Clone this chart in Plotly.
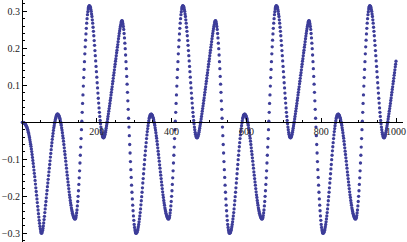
import plotly.graph_objects as go

# values, n = 1..1000
block_1 = [
    0.000, 0.000, 0.000, -0.001, -0.001, -0.002, -0.003, -0.004, -0.005, -0.007,
    -0.009, -0.011, -0.013, -0.016, -0.019, -0.023, -0.027, -0.031, -0.036, -0.041,
    -0.047, -0.053, -0.059, -0.065, -0.072, -0.079, -0.087, -0.095, -0.103, -0.111,
    -0.120, -0.129, -0.138, -0.147, -0.157, -0.167, -0.177, -0.187, -0.197, -0.207,
    -0.217, -0.227, -0.237, -0.247, -0.256, -0.265, -0.273, -0.281, -0.288, -0.294,
    -0.298, -0.300,
    -0.299, -0.296, -0.292, -0.287, -0.280, -0.272, -0.263, -0.254,
    -0.244, -0.234, -0.224, -0.214, -0.204, -0.194, -0.184, -0.174, -0.164, -0.154,
    -0.144, -0.134, -0.124, -0.114, -0.104, -0.094, -0.084, -0.074, -0.064, -0.055,
    -0.046, -0.038, -0.030, -0.022, -0.015, -0.009, -0.003, 0.002, 0.007, 0.011,
    0.015, 0.018, 0.020, 0.022, 0.022, 0.022, 0.021,
    0.019, 0.017, 0.014, 0.011, 0.007, 0.002, -0.003, -0.008,
    -0.015, -0.021, -0.028, -0.036, -0.043, -0.051, -0.060, -0.069, -0.078, -0.087,
    -0.096, -0.105, -0.115, -0.124, -0.134, -0.143, -0.152, -0.161, -0.170, -0.179,
    -0.188, -0.196, -0.203, -0.211, -0.218, -0.224, -0.231, -0.236, -0.241, -0.246,
    -0.250, -0.253, -0.256, -0.258, -0.260, -0.261, -0.261,
    -0.260, -0.257, -0.252, -0.245, -0.237, -0.226, -0.214, -0.200, -0.185, -0.168,
    -0.150, -0.131, -0.110, -0.089, -0.067, -0.044, -0.020, 0.003, 0.027, 0.051,
    0.074, 0.098, 0.121, 0.143, 0.164, 0.185, 0.204, 0.222, 0.239, 0.254,
    0.268, 0.280, 0.291, 0.299, 0.306, 0.311, 0.314, 0.315,
    0.314, 0.313, 0.310, 0.305, 0.300, 0.293, 0.286, 0.277, 0.268, 0.257,
    0.246, 0.234, 0.221, 0.208, 0.194, 0.180, 0.166, 0.151, 0.137, 0.122,
    0.107, 0.093, 0.079, 0.065, 0.052, 0.039, 0.027, 0.016, 0.005, -0.004,
    -0.013, -0.020, -0.027, -0.032, -0.037, -0.040, -0.041, -0.042,
    -0.041, -0.039, -0.036, -0.032, -0.027, -0.022, -0.016, -0.010, -0.004, 0.002,
    0.009, 0.016, 0.023, 0.030, 0.037, 0.044, 0.051, 0.059, 0.066, 0.074,
    0.081, 0.089, 0.096, 0.104, 0.111, 0.119, 0.127, 0.134, 0.142, 0.150,
    0.157, 0.165,
]

block_2 = [
    0.172, 0.180, 0.188, 0.195, 0.203, 0.210, 0.218, 0.226, 0.233, 0.240,
    0.247, 0.253, 0.259, 0.264, 0.269, 0.273, 0.275,
    0.274, 0.271, 0.266, 0.259, 0.251, 0.240, 0.228, 0.214, 0.199, 0.182,
    0.164, 0.145, 0.124, 0.103, 0.081, 0.058, 0.035, 0.011, -0.013, -0.036,
    -0.060, -0.083, -0.106, -0.128, -0.149, -0.170, -0.189, -0.207, -0.224, -0.239,
    -0.253, -0.265, -0.276, -0.284, -0.291, -0.296, -0.299, -0.300,
    -0.299, -0.298, -0.296, -0.292, -0.288, -0.282, -0.276, -0.269, -0.261, -0.253,
    -0.244, -0.234, -0.223, -0.212, -0.201, -0.189, -0.177, -0.164, -0.152, -0.139,
    -0.126, -0.114, -0.101, -0.089, -0.077, -0.066, -0.055, -0.044, -0.034, -0.025,
    -0.017, -0.009, -0.002, 0.004, 0.010, 0.014, 0.018, 0.020, 0.021, 0.022,
    0.022, 0.021, 0.019, 0.017, 0.014, 0.011, 0.007, 0.002, -0.003, -0.008,
    -0.015, -0.021, -0.028, -0.036, -0.043, -0.051, -0.060, -0.069, -0.078, -0.087,
    -0.096, -0.105, -0.115, -0.124, -0.134, -0.143, -0.152, -0.161, -0.170, -0.179,
    -0.188, -0.196, -0.203, -0.211, -0.218, -0.224, -0.231, -0.236, -0.241, -0.246,
    -0.250, -0.253, -0.256, -0.258, -0.260, -0.261, -0.261,
    -0.260, -0.257, -0.252, -0.245, -0.237, -0.226, -0.214, -0.200, -0.185, -0.168,
    -0.150, -0.131, -0.110, -0.089, -0.067, -0.044, -0.020, 0.003, 0.027, 0.051,
    0.074, 0.098, 0.121, 0.143, 0.164, 0.185, 0.204, 0.222, 0.239, 0.254,
    0.268, 0.280, 0.291, 0.299, 0.306, 0.311, 0.314, 0.315,
    0.314, 0.313, 0.310, 0.305, 0.300, 0.293, 0.286, 0.277, 0.268, 0.257,
    0.246, 0.234, 0.221, 0.208, 0.194, 0.180, 0.166, 0.151, 0.137, 0.122,
    0.107, 0.093, 0.079, 0.065, 0.052, 0.039, 0.027, 0.016, 0.005, -0.004,
    -0.013, -0.020, -0.027, -0.032, -0.037, -0.040, -0.041, -0.042,
    -0.041, -0.039, -0.036, -0.032, -0.027, -0.022, -0.016, -0.010, -0.004, 0.002,
    0.009, 0.016, 0.023, 0.030, 0.037, 0.044, 0.051, 0.059, 0.066, 0.074,
    0.081, 0.089, 0.096, 0.104, 0.111, 0.119, 0.127, 0.134, 0.142, 0.150,
    0.157, 0.165,
]

block_3 = [
    0.172, 0.180, 0.188, 0.195, 0.203, 0.210, 0.218, 0.226, 0.233, 0.240,
    0.247, 0.253, 0.259, 0.264, 0.269, 0.273, 0.275,
    0.274, 0.271, 0.266, 0.259, 0.251, 0.240, 0.228, 0.214, 0.199, 0.182,
    0.164, 0.145, 0.124, 0.103, 0.081, 0.058, 0.035, 0.011, -0.013, -0.036,
    -0.060, -0.083, -0.106, -0.128, -0.149, -0.170, -0.189, -0.207, -0.224, -0.239,
    -0.253, -0.265, -0.276, -0.284, -0.291, -0.296, -0.299, -0.300,
    -0.299, -0.298, -0.296, -0.292, -0.288, -0.282, -0.276, -0.269, -0.261, -0.253,
    -0.244, -0.234, -0.223, -0.212, -0.201, -0.189, -0.177, -0.164, -0.152, -0.139,
    -0.126, -0.114, -0.101, -0.089, -0.077, -0.066, -0.055, -0.044, -0.034, -0.025,
    -0.017, -0.009, -0.002, 0.004, 0.010, 0.014, 0.018, 0.020, 0.021, 0.022,
    0.022, 0.021, 0.019, 0.017, 0.014, 0.011, 0.007, 0.002, -0.003, -0.008,
    -0.015, -0.021, -0.028, -0.036, -0.043, -0.051, -0.060, -0.069, -0.078, -0.087,
    -0.096, -0.105, -0.115, -0.124, -0.134, -0.143, -0.152, -0.161, -0.170, -0.179,
    -0.188, -0.196, -0.203, -0.211, -0.218, -0.224, -0.231, -0.236, -0.241, -0.246,
    -0.250, -0.253, -0.256, -0.258, -0.260, -0.261, -0.261,
    -0.260, -0.257, -0.252, -0.245, -0.237, -0.226, -0.214, -0.200, -0.185, -0.168,
    -0.150, -0.131, -0.110, -0.089, -0.067, -0.044, -0.020, 0.003, 0.027, 0.051,
    0.074, 0.098, 0.121, 0.143, 0.164, 0.185, 0.204, 0.222, 0.239, 0.254,
    0.268, 0.280, 0.291, 0.299, 0.306, 0.311, 0.314, 0.315,
    0.314, 0.313, 0.310, 0.305, 0.300, 0.293, 0.286, 0.277, 0.268, 0.257,
    0.246, 0.234, 0.221, 0.208, 0.194, 0.180, 0.166, 0.151, 0.137, 0.122,
    0.107, 0.093, 0.079, 0.065, 0.052, 0.039, 0.027, 0.016, 0.005, -0.004,
    -0.013, -0.020, -0.027, -0.032, -0.037, -0.040, -0.041, -0.042,
    -0.041, -0.039, -0.036, -0.032, -0.027, -0.022, -0.016, -0.010, -0.004, 0.002,
    0.009, 0.016, 0.023, 0.030, 0.037, 0.044, 0.051, 0.059, 0.066, 0.074,
    0.081, 0.089, 0.096, 0.104, 0.111, 0.119, 0.127, 0.134, 0.142, 0.150,
    0.157, 0.165,
]

block_4 = [
    0.172, 0.180, 0.188, 0.195, 0.203, 0.210, 0.218, 0.226, 0.233, 0.240,
    0.247, 0.253, 0.259, 0.264, 0.269, 0.273, 0.275,
    0.274, 0.271, 0.266, 0.259, 0.251, 0.240, 0.228, 0.214, 0.199, 0.182,
    0.164, 0.145, 0.124, 0.103, 0.081, 0.058, 0.035, 0.011, -0.013, -0.036,
    -0.060, -0.083, -0.106, -0.128, -0.149, -0.170, -0.189, -0.207, -0.224, -0.239,
    -0.253, -0.265, -0.276, -0.284, -0.291, -0.296, -0.299, -0.300,
    -0.299, -0.298, -0.296, -0.292, -0.288, -0.282, -0.276, -0.269, -0.261, -0.253,
    -0.244, -0.234, -0.223, -0.212, -0.201, -0.189, -0.177, -0.164, -0.152, -0.139,
    -0.126, -0.114, -0.101, -0.089, -0.077, -0.066, -0.055, -0.044, -0.034, -0.025,
    -0.017, -0.009, -0.002, 0.004, 0.010, 0.014, 0.018, 0.020, 0.021, 0.022,
    0.022, 0.021, 0.019, 0.017, 0.014, 0.011, 0.007, 0.002, -0.003, -0.008,
    -0.015, -0.021, -0.028, -0.036, -0.043, -0.051, -0.060, -0.069, -0.078, -0.087,
    -0.096, -0.105, -0.115, -0.124, -0.134, -0.143, -0.152, -0.161, -0.170, -0.179,
    -0.188, -0.196, -0.203, -0.211, -0.218, -0.224, -0.231, -0.236, -0.241, -0.246,
    -0.250, -0.253, -0.256, -0.258, -0.260, -0.261, -0.261,
    -0.260, -0.257, -0.252, -0.245, -0.237, -0.226, -0.214, -0.200, -0.185, -0.168,
    -0.150, -0.131, -0.110, -0.089, -0.067, -0.044, -0.020, 0.003, 0.027, 0.051,
    0.074, 0.098, 0.121, 0.143, 0.164, 0.185, 0.204, 0.222, 0.239, 0.254,
    0.268, 0.280, 0.291, 0.299, 0.306, 0.311, 0.314, 0.315,
    0.314, 0.313, 0.310, 0.305, 0.300, 0.293, 0.286, 0.277, 0.268, 0.257,
    0.246, 0.234, 0.221, 0.208, 0.194, 0.180, 0.166, 0.151, 0.137, 0.122,
    0.107, 0.093, 0.079, 0.065, 0.052, 0.039, 0.027, 0.016, 0.005, -0.004,
    -0.013, -0.020, -0.027, -0.032, -0.037, -0.040, -0.041, -0.042,
    -0.041, -0.039, -0.036, -0.032, -0.027, -0.022, -0.016, -0.010, -0.004, 0.002,
    0.009, 0.016, 0.023, 0.030, 0.037, 0.044, 0.051, 0.059, 0.066, 0.074,
    0.081, 0.089, 0.096, 0.104, 0.111, 0.119, 0.127, 0.134, 0.142, 0.150,
    0.157, 0.165,
]

x_tick_values = [200, 400, 600, 800, 1000]
x_tick_labels = ["200", "400", "600", "800", "1000"]
y_tick_values = [-0.3, -0.2, -0.1, 0.1, 0.2, 0.3]
y_tick_labels = ["\u22120.3", "\u22120.2", "\u22120.1", "0.1", "0.2", "0.3"]

values = block_1 + block_2 + block_3 + block_4
assert len(values) == 1000, len(values)
index = list(range(1, len(values) + 1))

W, H = 407, 242
ML, MR, MT, MB = 22, 4, 0, 0
x_range = [0, 1018.7]
y_range = [-0.3235, 0.3306]
x_axis_pos = (0 - y_range[0]) / (y_range[1] - y_range[0])

tick_font = dict(family="Liberation Serif", size=10, color="#222222")

fig = go.Figure(
    go.Scatter(
        x=index, y=values, mode="markers",
        marker=dict(size=3.3, color="rgb(61,61,153)", line=dict(width=0)),
        cliponaxis=False, hoverinfo="skip",
    )
)

fig.update_layout(
    width=W, height=H,
    margin=dict(l=ML, r=MR, t=MT, b=MB, pad=0),
    plot_bgcolor="white", paper_bgcolor="white",
    showlegend=False,
    xaxis=dict(
        range=x_range, showgrid=False, zeroline=False,
        showline=True, linecolor="#000000", linewidth=1,
        anchor="free", position=x_axis_pos, side="bottom",
        ticks="inside", ticklen=4, tickwidth=1, tickcolor="#000000",
        tickvals=x_tick_values, ticktext=x_tick_labels, tickfont=tick_font,
        minor=dict(dtick=50, tick0=0, ticks="inside", ticklen=2,
                   tickwidth=1, tickcolor="#000000", showgrid=False),
        automargin=False, fixedrange=True,
    ),
    yaxis=dict(
        range=y_range, showgrid=False, zeroline=False,
        showline=True, linecolor="#000000", linewidth=1,
        anchor="free", position=0, side="left",
        ticks="inside", ticklen=4, tickwidth=1, tickcolor="#000000",
        tickvals=y_tick_values, ticktext=y_tick_labels, tickfont=tick_font,
        minor=dict(dtick=0.02, tick0=0, ticks="inside", ticklen=2,
                   tickwidth=1, tickcolor="#000000", showgrid=False),
        automargin=False, fixedrange=True,
    ),
)

fig.write_html("out.html")
